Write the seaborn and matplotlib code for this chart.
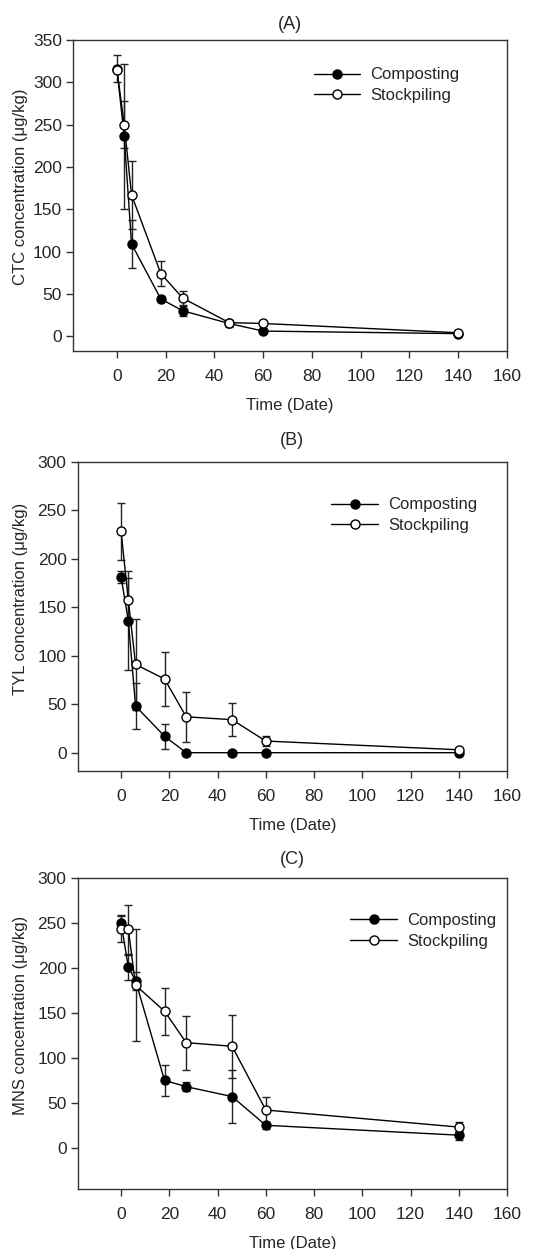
import numpy as np
import matplotlib
matplotlib.use("Agg")
import matplotlib.pyplot as plt
from matplotlib.lines import Line2D
import seaborn as sns

# sampling days
days = [0, 3, 6, 18, 27, 46, 60, 140]

# CTC (A)
ctc_comp = [316, 236, 109, 44, 30, 15, 6, 3]
ctc_comp_err = [16, 86, 28, 3, 6, 4, 2, 1]
ctc_stock = [315, 250, 167, 74, 45, 16, 15, 4]
ctc_stock_err = [3, 28, 40, 15, 8, 3, 3, 1]

# TYL (B)
tyl_comp = [181, 136, 48, 17, 0, 0, 0, 0]
tyl_comp_err = [6, 51, 24, 13, 0, 0, 0, 0]
tyl_stock = [228, 157, 91, 76, 37, 34, 12, 3]
tyl_stock_err = [29, 23, 47, 28, 26, 17, 5, 1]

# MNS (C)
mns_comp = [250, 201, 186, 75, 68, 57, 25, 14]
mns_comp_err = [8, 14, 10, 17, 5, 29, 4, 5]
mns_stock = [244, 243, 181, 152, 117, 113, 42, 23]
mns_stock_err = [15, 27, 62, 26, 30, 35, 14, 6]

sns.set_style("ticks")
plt.rcParams['font.family'] = ['Liberation Sans', 'DejaVu Sans']

fig = plt.figure(figsize=(5.41, 12.49), dpi=100)

panels = [
    dict(title="(A)", ylabel="CTC concentration (\u03bcg/kg)",
         comp=ctc_comp, comp_err=ctc_comp_err, stock=ctc_stock, stock_err=ctc_stock_err,
         rect=[0.135, 0.719, 0.802, 0.249], ylim=(-17.5, 350), yticks=range(0, 351, 50),
         tpad=8, legend=(0.52, 0.854), ylab=(-0.104, 0.527)),
    dict(title="(B)", ylabel="TYL concentration (\u03bcg/kg)",
         comp=tyl_comp, comp_err=tyl_comp_err, stock=tyl_stock, stock_err=tyl_stock_err,
         rect=[0.1436, 0.383, 0.7935, 0.2474], ylim=(-18.5, 300), yticks=range(0, 301, 50),
         tpad=12, legend=(0.556, 0.826), ylab=(-0.116, 0.557)),
    dict(title="(C)", ylabel="MNS concentration (\u03bcg/kg)",
         comp=mns_comp, comp_err=mns_comp_err, stock=mns_stock, stock_err=mns_stock_err,
         rect=[0.1436, 0.048, 0.7935, 0.2488], ylim=(-46, 300), yticks=range(0, 301, 50),
         tpad=10, legend=(0.60, 0.83), ylab=(-0.116, 0.56)),
]

for p in panels:
    ax = fig.add_axes(p["rect"])
    for vals, errs in [(p["comp"], p["comp_err"]), (p["stock"], p["stock_err"])]:
        ax.errorbar(days, vals, yerr=errs, fmt="none", ecolor="#222222",
                    elinewidth=1, capsize=3.2, capthick=1, zorder=1)
    sns.lineplot(x=days, y=p["comp"], ax=ax, color="black", linewidth=1,
                 marker="o", markersize=6.5, markerfacecolor="black",
                 markeredgecolor="black", markeredgewidth=1, zorder=3)
    sns.lineplot(x=days, y=p["stock"], ax=ax, color="black", linewidth=1,
                 marker="o", markersize=6.5, markerfacecolor="white",
                 markeredgecolor="black", markeredgewidth=1, zorder=3)

    handles = [Line2D([], [], color="black", lw=1, marker="o", markersize=6.5,
                      markerfacecolor="black", markeredgecolor="black"),
               Line2D([], [], color="black", lw=1, marker="o", markersize=6.5,
                      markerfacecolor="white", markeredgecolor="black")]
    ax.legend(handles, ["Composting", "Stockpiling"], loc="center left",
              bbox_to_anchor=p["legend"], frameon=False, fontsize=12,
              handlelength=2.8, handletextpad=0.6, labelspacing=0.35)

    ax.set_xlim(-18, 160)
    ax.set_xticks(range(0, 161, 20))
    ax.set_ylim(*p["ylim"])
    ax.set_yticks(list(p["yticks"]))
    ax.set_title(p["title"], fontsize=13, pad=p["tpad"])
    ax.set_xlabel("Time (Date)", fontsize=12, labelpad=10)
    ax.set_ylabel(p["ylabel"], fontsize=12)
    ax.yaxis.set_label_coords(*p["ylab"])
    ax.tick_params(axis="x", direction="out", length=5, width=1, labelsize=12.5,
                   pad=8, color="#333333")
    ax.tick_params(axis="y", direction="out", length=5, width=1, labelsize=12.5,
                   pad=3, color="#333333")
    for s in ax.spines.values():
        s.set_linewidth(1)
        s.set_color("#333333")

fig.savefig("out.png", dpi=100)
